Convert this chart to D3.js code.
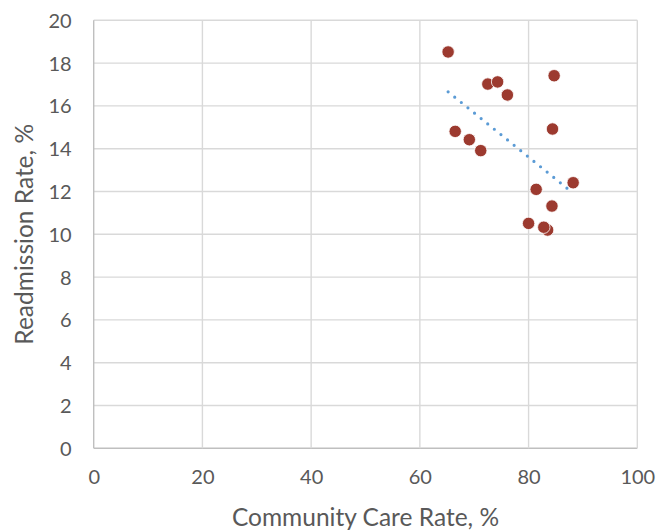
<!DOCTYPE html>
<html>
<head>
<meta charset="utf-8">
<script src="https://cdn.jsdelivr.net/npm/d3@7/dist/d3.min.js"></script>
<style>
  html, body { margin: 0; padding: 0; background: #fff; }
  svg { display: block; }
  text { font-family: Lato, "Open Sans", sans-serif; fill: #595959; }
</style>
</head>
<body>
<svg id="chart" width="659" height="532"></svg>
<script>
// Data
const communityCare = [65.2, 72.5, 74.3, 76.1, 84.7, 66.5, 69.1, 71.2, 84.4, 88.2, 81.4, 84.3, 80.0, 83.5, 82.8];
const readmission   = [18.52, 17.02, 17.12, 16.51, 17.41, 14.81, 14.42, 13.91, 14.92, 12.41, 12.10, 11.32, 10.51, 10.20, 10.33];
const trendX = [65.2, 88.2];
const trendY = [16.66, 11.92];
const xTicks = [0, 20, 40, 60, 80, 100];
const yTicks = [0, 2, 4, 6, 8, 10, 12, 14, 16, 18, 20];
const xTitle = "Community Care Rate, %";
const yTitle = "Readmission Rate, %";

const svg = d3.select("#chart");
const pLeft = 93.7, pRight = 637.3, pTop = 20.3, pBottom = 448.3;

const x = d3.scaleLinear().domain([0, 100]).range([pLeft, pRight]);
const y = d3.scaleLinear().domain([0, 20]).range([pBottom, pTop]);

const gridColor = "#d9d9d9";

// horizontal gridlines
svg.append("g").selectAll("line").data(yTicks).join("line")
  .attr("x1", pLeft).attr("x2", pRight)
  .attr("y1", d => y(d)).attr("y2", d => y(d))
  .attr("stroke", d => d === 0 ? "#bfbfbf" : gridColor).attr("stroke-width", 1.4);

// vertical gridlines
svg.append("g").selectAll("line").data(xTicks).join("line")
  .attr("y1", pTop).attr("y2", pBottom)
  .attr("x1", d => x(d)).attr("x2", d => x(d))
  .attr("stroke", d => d === 0 ? "#bfbfbf" : gridColor).attr("stroke-width", 1.4);

// axes (labels only, via d3 axes)
const xAxis = svg.append("g")
  .attr("transform", `translate(0,${pBottom})`)
  .call(d3.axisBottom(x).tickValues(xTicks).tickSize(0).tickPadding(22));
const yAxis = svg.append("g")
  .attr("transform", `translate(${pLeft},0)`)
  .call(d3.axisLeft(y).tickValues(yTicks).tickSize(0).tickPadding(22));
[xAxis, yAxis].forEach(g => {
  g.select(".domain").remove();
  g.selectAll("text").attr("font-size", 20).attr("fill", "#595959")
    .attr("font-family", "Lato, 'Open Sans', sans-serif");
});
yAxis.selectAll("text").attr("dy", "0.35em");
xAxis.selectAll("text").attr("dy", "0.71em");

// trendline (dotted)
svg.append("line")
  .attr("x1", x(trendX[0])).attr("y1", y(trendY[0]))
  .attr("x2", x(trendX[1])).attr("y2", y(trendY[1]))
  .attr("stroke", "#5b9bd5").attr("stroke-width", 3.2)
  .attr("stroke-linecap", "round").attr("stroke-dasharray", "0,8.5");

// points
const pts = communityCare.map((v, i) => ({ x: v, y: readmission[i] }));
svg.append("g").selectAll("circle").data(pts).join("circle")
  .attr("cx", d => x(d.x)).attr("cy", d => y(d.y))
  .attr("r", 6.2)
  .attr("fill", "#9c3a2f")
  .attr("stroke", "#ffffff").attr("stroke-width", 0.8);

// axis titles
svg.append("text")
  .attr("x", (pLeft + pRight) / 2).attr("y", 526)
  .attr("text-anchor", "middle").attr("font-size", 24.5)
  .text(xTitle);
svg.append("text")
  .attr("transform", `translate(33,${(pTop + pBottom) / 2}) rotate(-90)`)
  .attr("text-anchor", "middle").attr("font-size", 24.5)
  .text(yTitle);
</script>
</body>
</html>
